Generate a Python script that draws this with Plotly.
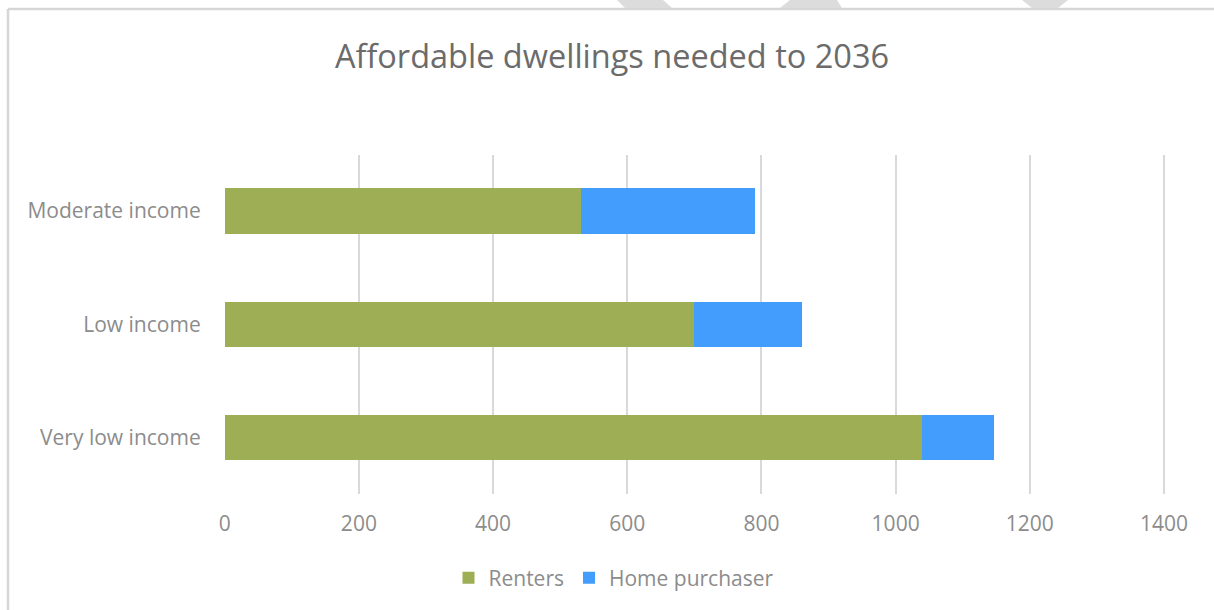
import plotly.graph_objects as go

# Affordable dwellings needed to 2036, by income band
categories = ["Very low income", "Low income", "Moderate income"]
renters = [1040, 700, 531]
home_purchaser = [106, 160, 260]
x_ticks = [0, 200, 400, 600, 800, 1000, 1200, 1400]

W, H = 1214, 610
FONT = "Open Sans"
GREEN = "#9DAE54"
BLUE = "#429DFD"
GRID = "#d9d9d9"
TEXT = "#8c8c8c"

fig = go.Figure()
fig.add_trace(go.Bar(
    y=categories, x=renters, orientation="h", name="Renters",
    marker=dict(color=GREEN, line=dict(width=0)),
))
fig.add_trace(go.Bar(
    y=categories, x=home_purchaser, orientation="h", name="Home purchaser",
    marker=dict(color=BLUE, line=dict(width=0)),
))


def px(x):
    return x / W


def py(y):
    return 1 - y / H


# outer chart frame: only its top and left edges fall inside the page
frame = dict(color="#d6d6d6", width=2.5)
shapes = [
    dict(type="line", xref="paper", yref="paper",
         x0=px(8), x1=1, y0=py(9), y1=py(9), line=frame, layer="below"),
    dict(type="line", xref="paper", yref="paper",
         x0=px(8), x1=px(8), y0=py(9), y1=0, line=frame, layer="below"),
]

# grey fragments along the top edge
fragments = [
    [(617, 0), (663, 0), (672, 8), (625, 8)],
    [(790, 0), (837, 0), (842, 8), (780, 8)],
    [(1022, 0), (1068, 0), (1058, 8), (1032, 8)],
]
for pts in fragments:
    path = "M " + " L ".join(f"{px(a):.5f},{py(b):.5f}" for a, b in pts) + " Z"
    shapes.append(dict(type="path", xref="paper", yref="paper", path=path,
                       fillcolor="#dcdcdc", line=dict(width=0), layer="above"))

# some headroom past 1400 so plotly keeps its gridline (edge lines are dropped)
x_max = 1406

fig.update_layout(
    width=W, height=H, autosize=False,
    margin=dict(l=0, r=0, t=0, b=0, pad=0),
    paper_bgcolor="white", plot_bgcolor="white",
    barmode="stack", bargap=0.6,
    font=dict(family=FONT, color=TEXT),
    title=dict(
        text="Affordable dwellings needed to 2036",
        x=px(612), xanchor="center", y=py(57), yanchor="middle",
        font=dict(family=FONT, size=32.5, color="#6b6b6b"),
    ),
    xaxis=dict(
        domain=[px(224.7), px(224.7 + 939.3 * x_max / 1400)], range=[0, x_max],
        automargin=False,
        tickvals=x_ticks, ticktext=[str(v) for v in x_ticks],
        showgrid=True, gridcolor=GRID, gridwidth=1.5,
        zeroline=False, showline=False, ticks="",
        tickfont=dict(family=FONT, size=21, color=TEXT),
        ticklabelstandoff=15, fixedrange=True,
    ),
    yaxis=dict(
        domain=[py(494), py(154.5)], automargin=False,
        categoryorder="array", categoryarray=categories,
        showgrid=False, zeroline=False, showline=False, ticks="",
        tickfont=dict(family=FONT, size=21, color=TEXT),
        ticklabelstandoff=23, fixedrange=True,
    ),
    legend=dict(
        orientation="h", x=px(614), xanchor="center", y=py(578), yanchor="middle",
        font=dict(family=FONT, size=21, color=TEXT),
        itemwidth=30, traceorder="normal",
    ),
    shapes=shapes,
)

fig.write_html("out.html")
